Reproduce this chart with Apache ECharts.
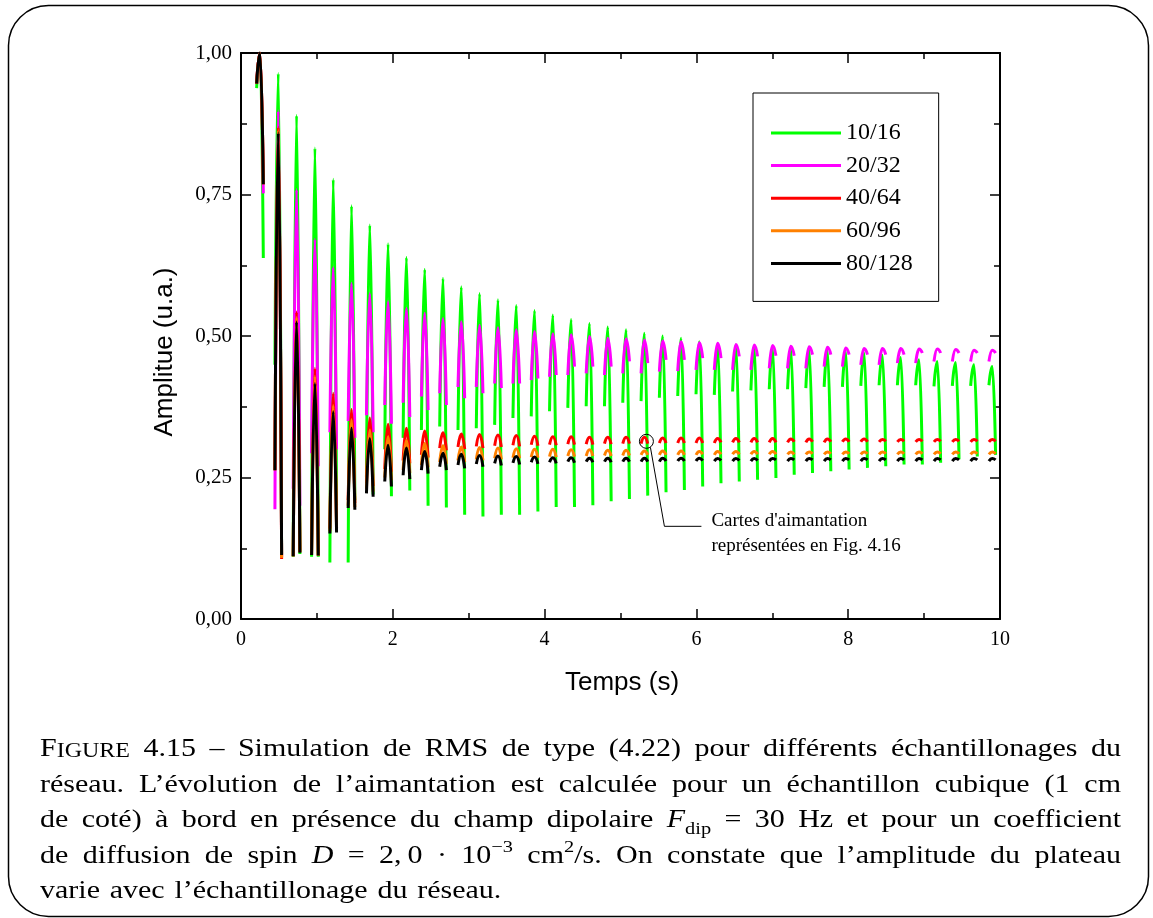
<!DOCTYPE html>
<html><head><meta charset="utf-8">
<script src="https://cdn.jsdelivr.net/npm/echarts@6/dist/echarts.min.js"></script>
<style>html,body{margin:0;padding:0;background:#fff}#c{width:1153px;height:918px}</style>
</head><body><div id="c"></div>
<script>
// ---------------- DATA ----------------
const seriesNames = ['10/16', '20/32', '40/64', '60/96', '80/128'];
const xTicks = [0, 2, 4, 6, 8, 10];
const yTicks = [0, 0.25, 0.5, 0.75, 1.0];
// time of each echo maximum (s)
const echoTimes = [0.250, 0.491, 0.732, 0.974, 1.215, 1.456, 1.697, 1.938, 2.180, 2.421,
  2.662, 2.903, 3.144, 3.386, 3.627, 3.868, 4.109, 4.350, 4.592, 4.833,
  5.074, 5.315, 5.556, 5.798, 6.039, 6.280, 6.521, 6.762, 7.004, 7.245,
  7.486, 7.727, 7.968, 8.210, 8.451, 8.692, 8.933, 9.174, 9.416, 9.657, 9.898];
// each echo is sampled from (t - halfWidth) to (t + halfWidth)
const echoHalfWidth = 0.044;

const greenStart = [0.938, 0.449, 0.110, 0.110, 0.100, 0.100, 0.250, 0.300, 0.320, 0.334,
  0.340, 0.334, 0.337, 0.343, 0.355, 0.358, 0.367, 0.373, 0.376, 0.376,
  0.382, 0.385, 0.391, 0.394, 0.397, 0.396, 0.402, 0.404, 0.406, 0.406,
  0.408, 0.410, 0.410, 0.412, 0.413, 0.413, 0.413, 0.411, 0.412, 0.412, 0.413];
const greenPeak = [1.000, 0.964, 0.890, 0.832, 0.777, 0.730, 0.696, 0.663, 0.639, 0.618,
  0.602, 0.587, 0.575, 0.564, 0.554, 0.545, 0.537, 0.529, 0.522, 0.516,
  0.511, 0.505, 0.500, 0.496, 0.490, 0.486, 0.484, 0.482, 0.480, 0.478,
  0.476, 0.474, 0.472, 0.470, 0.466, 0.462, 0.458, 0.455, 0.453, 0.449, 0.446];
const greenEnd = [0.638, 0.115, 0.115, 0.110, 0.200, 0.210, 0.220, 0.217, 0.227, 0.200,
  0.197, 0.184, 0.181, 0.184, 0.184, 0.190, 0.198, 0.198, 0.201, 0.208,
  0.212, 0.218, 0.224, 0.228, 0.234, 0.240, 0.243, 0.246, 0.249, 0.255,
  0.258, 0.261, 0.264, 0.267, 0.270, 0.273, 0.273, 0.276, 0.282, 0.287, 0.290];

const magentaStart = [0.946, 0.194, 0.230, 0.293, 0.330, 0.350, 0.360, 0.378, 0.382, 0.393,
  0.399, 0.410, 0.410, 0.416, 0.416, 0.422, 0.428, 0.431, 0.434, 0.431,
  0.434, 0.434, 0.437, 0.438, 0.440, 0.440, 0.440, 0.440, 0.443, 0.443,
  0.443, 0.446, 0.446, 0.449, 0.449, 0.452, 0.452, 0.455, 0.455, 0.455, 0.455];
const magentaPeak = [1.000, 0.898, 0.759, 0.671, 0.621, 0.593, 0.575, 0.561, 0.549, 0.540,
  0.531, 0.525, 0.519, 0.515, 0.511, 0.508, 0.504, 0.502, 0.499, 0.496,
  0.495, 0.493, 0.491, 0.490, 0.488, 0.487, 0.485, 0.484, 0.483, 0.482,
  0.481, 0.480, 0.479, 0.478, 0.478, 0.478, 0.477, 0.477, 0.476, 0.475, 0.475];
const magentaEnd = [0.752, 0.110, 0.200, 0.270, 0.300, 0.320, 0.330, 0.345, 0.357, 0.369,
  0.378, 0.390, 0.399, 0.408, 0.416, 0.425, 0.431, 0.446, 0.446, 0.446,
  0.455, 0.452, 0.458, 0.458, 0.461, 0.461, 0.464, 0.464, 0.465, 0.465,
  0.467, 0.467, 0.467, 0.467, 0.467, 0.467, 0.470, 0.470, 0.470, 0.470, 0.470];

const redStart = [0.946, 0.263, 0.111, 0.113, 0.160, 0.210, 0.240, 0.265, 0.280, 0.290,
  0.302, 0.304, 0.305, 0.306, 0.307, 0.308, 0.308, 0.309, 0.309, 0.310,
  0.310, 0.310, 0.311, 0.311, 0.311, 0.311, 0.312, 0.312, 0.312, 0.312,
  0.312, 0.312, 0.313, 0.313, 0.313, 0.313, 0.313, 0.313, 0.313, 0.313, 0.313];
const redPeak = [1.000, 0.869, 0.543, 0.443, 0.399, 0.370, 0.355, 0.344, 0.337, 0.332,
  0.329, 0.327, 0.326, 0.325, 0.324, 0.323, 0.322, 0.322, 0.321, 0.321,
  0.321, 0.321, 0.320, 0.320, 0.320, 0.319, 0.319, 0.319, 0.319, 0.318,
  0.318, 0.318, 0.318, 0.318, 0.317, 0.317, 0.317, 0.317, 0.317, 0.317, 0.317];
const redEnd = [0.768, 0.106, 0.119, 0.112, 0.160, 0.205, 0.235, 0.260, 0.275, 0.285,
  0.298, 0.300, 0.302, 0.304, 0.305, 0.306, 0.307, 0.308, 0.308, 0.309,
  0.310, 0.310, 0.311, 0.311, 0.311, 0.312, 0.312, 0.312, 0.312, 0.313,
  0.313, 0.313, 0.313, 0.313, 0.314, 0.314, 0.314, 0.314, 0.314, 0.314, 0.314];

const orangeStart = [0.946, 0.263, 0.111, 0.113, 0.155, 0.200, 0.230, 0.250, 0.263, 0.272,
  0.277, 0.280, 0.282, 0.284, 0.285, 0.286, 0.287, 0.288, 0.288, 0.289,
  0.289, 0.290, 0.290, 0.290, 0.290, 0.290, 0.291, 0.291, 0.291, 0.291,
  0.291, 0.291, 0.291, 0.291, 0.291, 0.291, 0.291, 0.291, 0.291, 0.291, 0.291];
const orangePeak = [1.000, 0.864, 0.533, 0.429, 0.377, 0.352, 0.334, 0.322, 0.316, 0.310,
  0.306, 0.304, 0.303, 0.302, 0.301, 0.300, 0.300, 0.299, 0.299, 0.298,
  0.298, 0.297, 0.297, 0.297, 0.296, 0.296, 0.296, 0.296, 0.296, 0.295,
  0.295, 0.295, 0.295, 0.295, 0.295, 0.295, 0.295, 0.295, 0.295, 0.295, 0.295];
const orangeEnd = [0.768, 0.108, 0.118, 0.112, 0.156, 0.198, 0.225, 0.245, 0.258, 0.268,
  0.274, 0.277, 0.280, 0.282, 0.284, 0.285, 0.286, 0.287, 0.288, 0.288,
  0.289, 0.290, 0.290, 0.290, 0.291, 0.291, 0.291, 0.291, 0.291, 0.291,
  0.292, 0.292, 0.292, 0.292, 0.292, 0.292, 0.292, 0.292, 0.292, 0.292, 0.292];

const blackStart = [0.946, 0.263, 0.111, 0.113, 0.151, 0.196, 0.222, 0.243, 0.254, 0.263,
  0.269, 0.272, 0.274, 0.275, 0.276, 0.277, 0.277, 0.278, 0.278, 0.278,
  0.278, 0.278, 0.278, 0.279, 0.279, 0.279, 0.279, 0.279, 0.279, 0.279,
  0.279, 0.279, 0.279, 0.279, 0.279, 0.279, 0.279, 0.279, 0.279, 0.279, 0.279];
const blackPeak = [1.000, 0.859, 0.525, 0.416, 0.366, 0.337, 0.319, 0.307, 0.302, 0.296,
  0.293, 0.291, 0.289, 0.288, 0.287, 0.286, 0.285, 0.285, 0.284, 0.284,
  0.284, 0.284, 0.284, 0.284, 0.284, 0.2835, 0.2835, 0.2835, 0.2835, 0.2835,
  0.2835, 0.2835, 0.2835, 0.2835, 0.2835, 0.2835, 0.2835, 0.2835, 0.2835, 0.2835, 0.2835];
const blackEnd = [0.768, 0.113, 0.117, 0.112, 0.153, 0.193, 0.216, 0.234, 0.247, 0.257,
  0.263, 0.266, 0.269, 0.271, 0.273, 0.274, 0.275, 0.276, 0.277, 0.277,
  0.278, 0.278, 0.279, 0.279, 0.280, 0.280, 0.280, 0.280, 0.281, 0.281,
  0.281, 0.281, 0.281, 0.281, 0.281, 0.281, 0.281, 0.281, 0.281, 0.281, 0.281];

// ---------------- BUILD ----------------
function buildEchoes(start, peak, end) {
  const d = [];
  for (let k = 0; k < echoTimes.length; k++) {
    const t = echoTimes[k];
    d.push([t - echoHalfWidth, start[k]], [t, peak[k]], [t + echoHalfWidth, end[k]], [t + 2 * echoHalfWidth, '-']);
  }
  return d;
}
const colors = ['#00ff00', '#ff00ff', '#ff0000', '#ff8000', '#000000'];
const seriesData = [
  buildEchoes(greenStart, greenPeak, greenEnd),
  buildEchoes(magentaStart, magentaPeak, magentaEnd),
  buildEchoes(redStart, redPeak, redEnd),
  buildEchoes(orangeStart, orangePeak, orangeEnd),
  buildEchoes(blackStart, blackPeak, blackEnd)
];

const SERIF = '"Liberation Serif", "Times New Roman", serif';
const SANS = '"Liberation Sans", Arial, sans-serif';

const chart = echarts.init(document.getElementById('c'), null, {renderer: 'canvas'});

function axisCommon(pos, withLabels) {
  return {
    type: 'value', position: pos,
    axisLine: {show: true, onZero: false, lineStyle: {color: '#000', width: 2}},
    axisTick: {show: true, inside: true, length: 10, lineStyle: {color: '#000', width: 1.5}},
    minorTick: {show: true, splitNumber: 2, length: 6, lineStyle: {color: '#000', width: 1.5}},
    splitLine: {show: false}, minorSplitLine: {show: false},
    axisLabel: {show: withLabels}
  };
}
const xBottom = Object.assign(axisCommon('bottom', true), {min: xTicks[0], max: xTicks[xTicks.length - 1], interval: 2});
xBottom.axisLabel = {show: true, margin: 11, fontFamily: SERIF, fontSize: 20, color: '#000', formatter: v => String(v)};
const xTop = Object.assign(axisCommon('top', false), {min: xTicks[0], max: xTicks[xTicks.length - 1], interval: 2});
const yLeft = Object.assign(axisCommon('left', true), {min: yTicks[0], max: yTicks[yTicks.length - 1], interval: 0.25});
yLeft.axisLabel = {show: true, margin: 9, fontFamily: SERIF, fontSize: 21, color: '#000', formatter: v => v.toFixed(2).replace('.', ',')};
const yRight = Object.assign(axisCommon('right', false), {min: yTicks[0], max: yTicks[yTicks.length - 1], interval: 0.25});

const option = {
  animation: false,
  backgroundColor: '#fff',
  grid: {left: 241, top: 53, width: 759, height: 566, containLabel: false},
  legend: {
    data: seriesNames,
    orient: 'vertical',
    left: 753, top: 93,
    padding: [28, 26, 26, 18],
    icon: 'rect',
    itemWidth: 70, itemHeight: 3, itemGap: 8.6,
    borderColor: '#000', borderWidth: 1,
    textStyle: {fontFamily: SERIF, fontSize: 24, color: '#000'},
    selectedMode: false
  },
  xAxis: [xBottom, xTop],
  yAxis: [yLeft, yRight],
  series: seriesNames.map((n, i) => ({
    name: n, type: 'line', xAxisIndex: 0, yAxisIndex: 0,
    data: seriesData[i],
    symbol: 'none', showSymbol: false,
    smooth: 0.5, smoothMonotone: 'x',
    connectNulls: false,
    clip: true,
    color: colors[i],
    itemStyle: {color: colors[i]},
    lineStyle: {color: colors[i], width: 3},
    emphasis: {disabled: true},
    z: 2 + i
  }))
};
chart.setOption(option);

// ---------------- ANNOTATION + TITLES + CAPTION ----------------
const graphics = [];
// rounded frame
graphics.push({type: 'rect', shape: {x: 8.5, y: 5.5, width: 1140, height: 911, r: 40},
  style: {fill: null, stroke: '#000', lineWidth: 1.5}, silent: true, z: 0});

// axis titles
graphics.push({type: 'text', x: 165, y: 352, rotation: Math.PI / 2,
  style: {text: 'Amplitue (u.a.)', font: '26px ' + SANS, fill: '#000', align: 'center', verticalAlign: 'middle'}, z: 10});
graphics.push({type: 'text', x: 622, y: 683,
  style: {text: 'Temps (s)', font: '26px ' + SANS, fill: '#000', align: 'center', verticalAlign: 'middle'}, z: 10});

// annotation circle on the echo shown in Fig. 4.16
const annIdx = 21;
const cp = chart.convertToPixel({gridIndex: 0}, [echoTimes[annIdx], redPeak[annIdx]]);
const cx = cp[0] + 2, cy = cp[1] + 4;
graphics.push({type: 'circle', shape: {cx: cx, cy: cy, r: 7}, style: {fill: null, stroke: '#000', lineWidth: 1}, z: 10});
graphics.push({type: 'polyline', shape: {points: [[cx + 4, cy + 6], [cx + 18, cy + 85], [cx + 55, cy + 85]]},
  style: {fill: null, stroke: '#000', lineWidth: 1}, z: 10});
graphics.push({type: 'text', x: cx + 65, y: cy + 80, style: {text: "Cartes d'aimantation", font: '19px ' + SERIF, fill: '#000', verticalAlign: 'middle'}, z: 10});
graphics.push({type: 'text', x: cx + 65, y: cy + 105, style: {text: 'représentées en Fig. 4.16', font: '19px ' + SERIF, fill: '#000', verticalAlign: 'middle'}, z: 10});

// caption (justified)
const FS = 25;
const CAP_SX = 1.2;
const R = FS + 'px ' + SERIF;
const SC = '20px ' + SERIF;
const IT = 'italic ' + FS + 'px ' + SERIF;
const SM = '17px ' + SERIF;
const captionLines = [
  [[['F', R, 0, FS], ['IGURE', SC, 0, 20]], '4.15', '–', 'Simulation', 'de', 'RMS', 'de', 'type', '(4.22)', 'pour', 'différents', 'échantillonages', 'du'],
  'réseau. L’évolution de l’aimantation est calculée pour un échantillon cubique (1 cm'.split(' '),
  ['de', 'coté)', 'à', 'bord', 'en', 'présence', 'du', 'champ', 'dipolaire', [['F', IT, 0, FS], ['dip', SM, 6, 17]], '=', '30', 'Hz', 'et', 'pour', 'un', 'coefficient'],
  ['de', 'diffusion', 'de', 'spin', [['D', IT, 0, FS]], '=', '2,\u20090', '·', [['10', R, 0, FS], ['−3', SM, -11, 17]], [['cm', R, 0, FS], ['2', SM, -11, 17], ['/s.', R, 0, FS]], 'On', 'constate', 'que', 'l’amplitude', 'du', 'plateau'],
  'varie avec l’échantillonage du réseau.'.split(' ')
];
const baselines = [758, 793.5, 829, 864.5, 900];
const capLeft = 40, capRight = 1121;
const mctx = document.createElement('canvas').getContext('2d');
function mw(t, f) { mctx.font = f; return mctx.measureText(t).width * CAP_SX; }
captionLines.forEach((line, li) => {
  const words = line.map(w => typeof w === 'string' ? [[w, R, 0, FS]] : w);
  const widths = words.map(ps => ps.reduce((s, p) => s + mw(p[0], p[1]), 0));
  const total = widths.reduce((a, b) => a + b, 0);
  const justify = li < captionLines.length - 1;
  const gap = justify ? (capRight - capLeft - total) / (words.length - 1) : mw(' ', R) * 1.3;
  let x = capLeft;
  words.forEach((ps, wi) => {
    let px = x;
    ps.forEach(p => {
      graphics.push({type: 'text', x: px, y: baselines[li] + p[2] - 0.33 * p[3], scaleX: CAP_SX,
        style: {text: p[0], font: p[1], fill: '#000', verticalAlign: 'middle', align: 'left'}, silent: true});
      px += mw(p[0], p[1]);
    });
    x += widths[wi] + gap;
  });
});
chart.setOption({graphic: {elements: graphics}});
</script>
</body></html>
